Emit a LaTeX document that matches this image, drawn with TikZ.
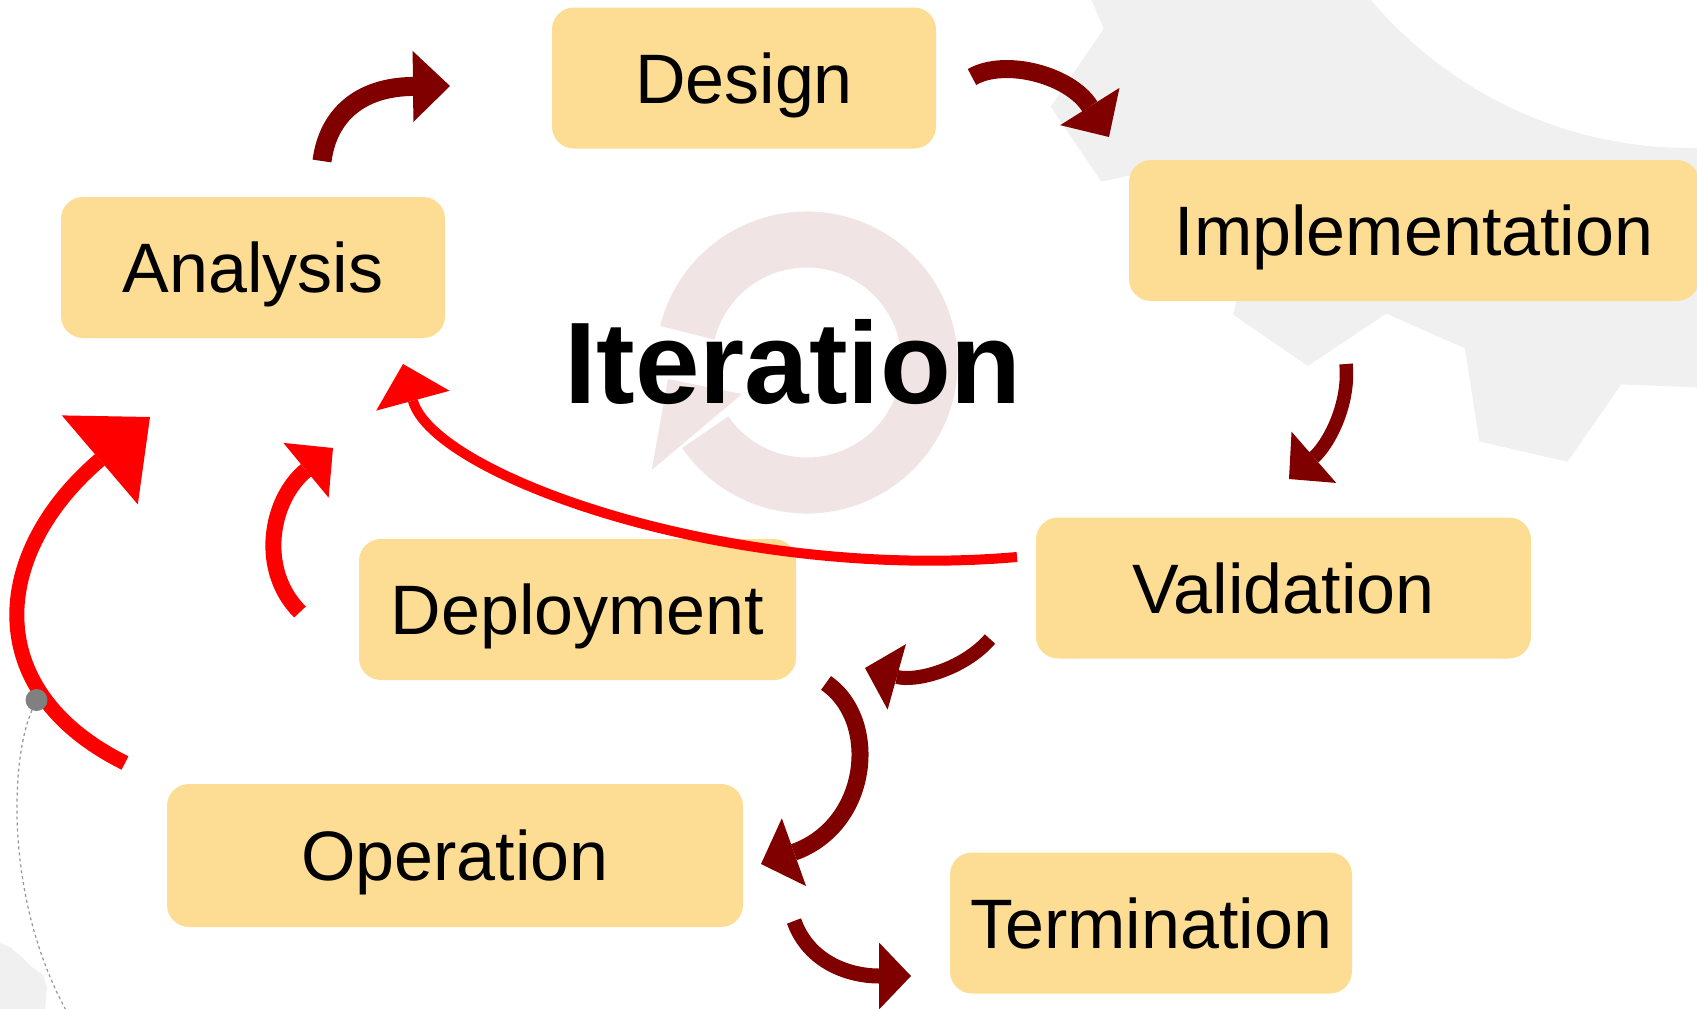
\documentclass[tikz,border=0pt]{standalone}
\usepackage{fontspec}
\setmainfont{Liberation Sans}
\usetikzlibrary{arrows.meta}
\definecolor{boxfill}{RGB}{253,221,148}
\definecolor{maroon}{RGB}{128,0,0}
\definecolor{brightred}{RGB}{255,0,0}
\definecolor{gearfill}{RGB}{240,240,240}
\definecolor{ringfill}{RGB}{241,228,228}
\definecolor{dotgray}{RGB}{128,128,128}
\definecolor{dashgray}{RGB}{150,150,150}
\begin{document}
\begin{tikzpicture}[x=1pt,y=-1pt,
  box/.style={rectangle, rounded corners=22pt, fill=boxfill, inner sep=0pt,
    minimum height=141pt, text height=50pt, text depth=0pt,
    font=\fontsize{70}{84}\selectfont},
  darrow/.style={draw=maroon},
  rarrow/.style={draw=brightred},
  dashline/.style={draw=dashgray, line width=1.2pt, dash pattern=on 3pt off 3pt}
]
\useasboundingbox (0,0) rectangle (1697,1009);
\clip (0,0) rectangle (1697,1009);

% background gear
\begin{scope}[shift={(1690,-270)}]
\fill[gearfill, even odd rule] (175:658)
  \foreach \k in {0,...,15} {
    -- ({167.5-21.5*\k+7}:658) -- ({167.5-21.5*\k+3.5}:742)
    -- ({167.5-21.5*\k-3.5}:742) -- ({167.5-21.5*\k-7}:658)
  } -- cycle
  (0,0) circle[radius=418];
\end{scope}
\fill[gearfill] (0,943) -- (10,947) -- (23,958) -- (32,967) -- (43,975)
  -- (47,987) -- (45,1009) -- (0,1009) -- cycle;

% iteration ring icon
\begin{scope}[shift={(806.7,362.5)}]
\fill[ringfill] (-166:151) arc[start angle=-166, end angle=145.5, radius=151]
  -- (145.5:95) arc[start angle=145.5, end angle=-166, radius=95] -- cycle;
\end{scope}
\fill[ringfill] (668,379) -- (742,394) -- (651.7,470) -- cycle;

\node[font=\fontsize{116}{138}\selectfont\bfseries, anchor=base, inner sep=0pt] (iter) at (793,403) {Iteration};

% boxes
\node[box, minimum width=384pt] (design) at (744,78) {Design};
\node[box, minimum width=384pt] (analysis) at (253,267.5) {Analysis};
\node[box, minimum width=570pt] (impl) at (1414,230.5) {Implementation};
\node[box, minimum width=495pt] (valid) at (1283.5,588) {Validation};
\node[box, minimum width=437pt] (deploy) at (577.5,609.5) {Deployment};
\node[box, minimum width=576pt, minimum height=143pt] (oper) at (455,855.5) {Operation};
\node[box, minimum width=402pt] (term) at (1151,923) {Termination};

% arrow end points
\coordinate (t1) at (322,161);  \coordinate (h1) at (450,86);
\coordinate (t2) at (972,77);   \coordinate (h2) at (1109,137);
\coordinate (t3) at (1346,364); \coordinate (h3) at (1289,479);
\coordinate (t4) at (1017,557); \coordinate (h4) at (403,364);
\coordinate (t5) at (300,612);  \coordinate (h5) at (333,448);
\coordinate (t6) at (125,763);  \coordinate (h6) at (150,417);
\coordinate (t7) at (990,639);  \coordinate (h7) at (865,668);
\coordinate (t8) at (826,683);  \coordinate (h8) at (761,864);
\coordinate (t9) at (794,921);  \coordinate (h9) at (911,976);

% dark red arrows
\draw[darrow, line width=19pt, -{Triangle[length=37pt,width=71pt,line width=0pt]}]
  (t1) .. controls (328,115) and (360,87) .. (h1);
\draw[darrow, line width=18pt, -{Triangle[length=36pt,width=70pt,line width=0pt]}]
  (t2) .. controls (1005,58) and (1070,75) .. (h2);
\draw[darrow, line width=13.5pt, -{Triangle[length=33pt,width=68pt,line width=0pt]}]
  (t3) .. controls (1350,405) and (1328,445) .. (h3);
\draw[darrow, line width=14pt, -{Triangle[length=33pt,width=68pt,line width=0pt]}]
  (t7) .. controls (963,670) and (915,682) .. (h7);
\draw[darrow, line width=17pt, -{Triangle[length=35pt,width=72pt,line width=0pt]}]
  (t8) .. controls (880,720) and (870,825) .. (h8);
\draw[darrow, line width=15pt, -{Triangle[length=32pt,width=67pt,line width=0pt]}]
  (t9) .. controls (809,963) and (850,976) .. (h9);

% red arrows
\draw[rarrow, line width=10pt, -{Triangle[length=38pt,width=76pt,line width=0pt]}]
  (t4) .. controls (730,582) and (433,475) .. (h4);
\draw[rarrow, line width=16pt, -{Triangle[length=35pt,width=71pt,line width=0pt]}]
  (t5) .. controls (258,570) and (270,500) .. (h5);
\draw[rarrow, line width=15pt, -{Triangle[length=66pt,width=117pt,line width=0pt]}]
  (t6) .. controls (-22,690) and (-8,552) .. (h6);

% grey dot and dashed trail
\node[circle, fill=dotgray, minimum size=22pt, inner sep=0pt] (dot) at (36.5,700) {};
\coordinate (dashend) at (67,1012);
\draw[dashline] (dot) .. controls (10,760) and (5,900) .. (dashend);
\end{tikzpicture}
\end{document}
